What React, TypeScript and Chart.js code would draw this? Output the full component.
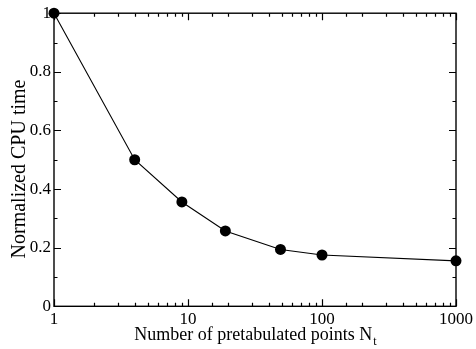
import React, { useEffect, useRef } from "react";
import { Chart, registerables } from "chart.js";

Chart.register(...registerables);

const nPoints = [1, 4, 9, 19, 49, 100, 1000];
const cpuTime = [1.0, 0.5, 0.356, 0.257, 0.194, 0.175, 0.155];
const xTickLabels = [1, 10, 100, 1000];
const yTickLabels = [0, 0.2, 0.4, 0.6, 0.8, 1];
const xTitle = "Number of pretabulated points N";
const xTitleSub = "t";
const yTitle = "Normalized CPU time";

const FONT = "'Liberation Serif', 'Times New Roman', serif";

const framePlugin = {
  id: "frame",
  beforeDatasetsDraw(chart: any) {
    const { ctx, chartArea } = chart;
    const { left, right, top, bottom } = chartArea;
    const xs = chart.scales.x;
    const ys = chart.scales.y;
    ctx.save();
    ctx.strokeStyle = "#000";
    ctx.lineWidth = 1.4;
    ctx.strokeRect(left, top, right - left, bottom - top);
    ctx.lineWidth = 1.2;
    const MAJ = 7;
    const MIN = 3.5;
    ctx.beginPath();
    for (const t of xs.ticks) {
      const v = t.value;
      if (v < xs.min - 1e-9 || v > xs.max + 1e-9) continue;
      const p = Math.round(xs.getPixelForValue(v)) + 0.5;
      const lg = Math.log10(v);
      const len = Math.abs(lg - Math.round(lg)) < 1e-6 ? MAJ : MIN;
      ctx.moveTo(p, bottom);
      ctx.lineTo(p, bottom - len);
      ctx.moveTo(p, top);
      ctx.lineTo(p, top + len);
    }
    for (const t of ys.ticks) {
      const v = t.value;
      const p = Math.round(ys.getPixelForValue(v)) + 0.5;
      const len = Math.round(v * 10) % 2 === 0 ? MAJ : MIN;
      ctx.moveTo(left, p);
      ctx.lineTo(left + len, p);
      ctx.moveTo(right, p);
      ctx.lineTo(right - len, p);
    }
    ctx.stroke();

    // x title with subscript
    ctx.fillStyle = "#000";
    ctx.font = `18px ${FONT}`;
    const mainW = ctx.measureText(xTitle).width;
    ctx.font = `12px ${FONT}`;
    const subW = ctx.measureText(xTitleSub).width;
    const cx = (left + right) / 2;
    const startX = cx - (mainW + subW) / 2;
    ctx.textBaseline = "alphabetic";
    ctx.textAlign = "left";
    ctx.font = `18px ${FONT}`;
    ctx.fillText(xTitle, startX, 340);
    ctx.font = `12px ${FONT}`;
    ctx.fillText(xTitleSub, startX + mainW + 1, 345);

    // y title
    ctx.save();
    ctx.translate(25, 169);
    ctx.rotate(-Math.PI / 2);
    ctx.font = `20px ${FONT}`;
    ctx.textAlign = "center";
    ctx.textBaseline = "alphabetic";
    ctx.fillText(yTitle, 0, 0);
    ctx.restore();
    ctx.restore();
  },
};

export default function App() {
  const ref = useRef<HTMLCanvasElement>(null);
  useEffect(() => {
    document.body.style.margin = "0";
    const canvas = ref.current!;
    const chart = new Chart(canvas, {
      type: "line",
      data: {
        datasets: [
          {
            data: nPoints.map((x, i) => ({ x, y: cpuTime[i] })),
            borderColor: "#000",
            backgroundColor: "#000",
            borderWidth: 1.1,
            pointRadius: 5.5,
            pointHoverRadius: 5.5,
            pointBackgroundColor: "#000",
            pointBorderColor: "#000",
            pointBorderWidth: 0,
            tension: 0,
            clip: false as any,
          },
        ],
      },
      options: {
        responsive: false,
        animation: false,
        events: [],
        layout: { padding: { left: 0, top: 12.7, right: 19, bottom: 0 } },
        plugins: { legend: { display: false }, tooltip: { enabled: false } },
        scales: {
          x: {
            type: "logarithmic",
            min: 1,
            max: 1000,
            grid: { display: false, drawTicks: false },
            border: { display: false },
            afterFit: (s: any) => {
              s.height = 349 - 306.3;
            },
            ticks: {
              autoSkip: false,
              maxRotation: 0,
              minRotation: 0,
              padding: 3,
              color: "#000",
              font: { family: FONT, size: 17 },
              callback: (v: any) =>
                xTickLabels.includes(Number(v)) ? String(v) : "",
            },
          },
          y: {
            type: "linear",
            min: 0,
            max: 1,
            grid: { display: false, drawTicks: false },
            border: { display: false },
            afterFit: (s: any) => {
              s.width = 54;
            },
            ticks: {
              stepSize: 0.1,
              padding: 3,
              color: "#000",
              font: { family: FONT, size: 17 },
              callback: (v: any) => {
                const r = Math.round(Number(v) * 10) / 10;
                return yTickLabels.some((t) => Math.abs(t - r) < 1e-9)
                  ? String(r)
                  : "";
              },
            },
          },
        },
      },
      plugins: [framePlugin],
    });
    return () => chart.destroy();
  }, []);
  return (
    <div style={{ position: "fixed", left: 0, top: 0, width: 476, height: 349, background: "#fff" }}>
      <canvas ref={ref} width={476} height={349} />
    </div>
  );
}
